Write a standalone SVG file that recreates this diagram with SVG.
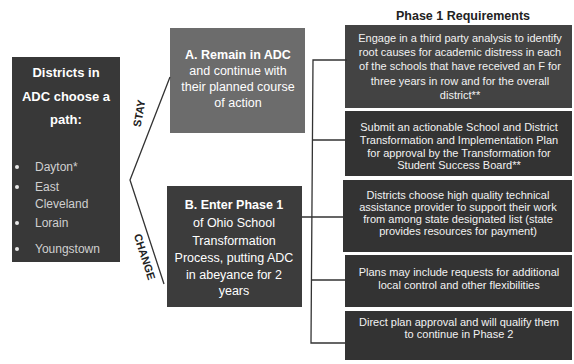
<svg xmlns="http://www.w3.org/2000/svg" width="574" height="364" viewBox="0 0 574 364">
<style>
text{font-family:"Liberation Sans",Arial,sans-serif;}
.wt{fill:#ffffff;text-anchor:middle;}
.big{font-size:12.5px;}
.hdr{font-size:13px;font-weight:bold;fill:#ffffff;text-anchor:middle;}
.req{font-size:11px;fill:#f2f2f2;text-anchor:middle;}
.li{font-size:12px;fill:#d0d0d0;}
.conn{stroke:#333;stroke-width:1.3;fill:none;}
.lbl{font-size:11px;font-weight:bold;fill:#222;text-anchor:middle;}
</style>
<rect width="574" height="364" fill="#ffffff"/>
<g id="districts">
<rect x="12" y="57" width="108" height="205" fill="#383838"/>
<text class="hdr" x="66" y="77">Districts in</text>
<text class="hdr" x="66" y="101">ADC choose a</text>
<text class="hdr" x="66" y="124">path:</text>
<g fill="#e8e8e8"><circle cx="17" cy="167" r="2"/><circle cx="17" cy="187" r="2"/><circle cx="17" cy="223" r="2"/><circle cx="17" cy="249" r="2"/></g>
<text class="li" x="35" y="171">Dayton*</text>
<text class="li" x="35" y="191">East</text>
<text class="li" x="35" y="208">Cleveland</text>
<text class="li" x="35" y="227">Lorain</text>
<text class="li" x="35" y="253">Youngstown</text>
</g>
<g id="optionA">
<rect x="170" y="28" width="135" height="105" fill="#6c6c6c"/>
<text class="wt big" x="238" y="59" font-weight="bold">A. Remain in ADC</text>
<text class="wt big" x="238" y="75">and continue with</text>
<text class="wt big" x="238" y="91">their planned course</text>
<text class="wt big" x="238" y="107">of action</text>
</g>
<g id="optionB">
<rect x="167" y="186" width="135" height="121" fill="#3c3c3c"/>
<text class="wt big" x="234" y="209" font-weight="bold">B. Enter Phase 1</text>
<text class="wt big" x="234" y="227">of Ohio School</text>
<text class="wt big" x="234" y="245">Transformation</text>
<text class="wt big" x="234" y="262">Process, putting ADC</text>
<text class="wt big" x="234" y="279">in abeyance for 2</text>
<text class="wt big" x="234" y="295">years</text>
</g>
<g id="phase1-title">
<text x="463" y="20" font-size="12.5px" font-weight="bold" fill="#222" text-anchor="middle">Phase 1 Requirements</text>
</g>
<g id="req1">
<rect x="345" y="25" width="227" height="83" fill="#434343"/>
<text class="req" x="460" y="42">Engage in a third party analysis to identify</text>
<text class="req" x="460" y="56">root causes for academic distress in each</text>
<text class="req" x="460" y="70">of the schools that have received an F for</text>
<text class="req" x="460" y="85">three years in row and for the overall</text>
<text class="req" x="460" y="99">district**</text>
</g>
<g id="req2">
<rect x="345" y="111" width="227" height="65" fill="#333333"/>
<text class="req" x="459" y="131">Submit an actionable School and District</text>
<text class="req" x="459" y="144">Transformation and Implementation Plan</text>
<text class="req" x="459" y="157">for approval by the Transformation for</text>
<text class="req" x="459" y="169">Student Success Board**</text>
</g>
<g id="req3">
<rect x="343" y="180" width="229" height="72" fill="#333333"/>
<text class="req" x="458" y="199">Districts choose high quality technical</text>
<text class="req" x="458" y="211">assistance provider to support their work</text>
<text class="req" x="458" y="223">from among state designated list (state</text>
<text class="req" x="458" y="235">provides resources for payment)</text>
</g>
<g id="req4">
<rect x="345" y="255" width="227" height="52" fill="#333333"/>
<text class="req" x="459" y="276">Plans may include requests for additional</text>
<text class="req" x="459" y="289">local control and other flexibilities</text>
</g>
<g id="req5">
<rect x="345" y="311" width="227" height="49" fill="#333333"/>
<text class="req" x="459" y="326">Direct plan approval and will qualify them</text>
<text class="req" x="459" y="338">to continue in Phase 2</text>
</g>
<g id="connectors">
<polyline class="conn" points="170,77 130,180 164,284"/>
<text class="lbl" transform="translate(143,114) rotate(-80)">STAY</text>
<text class="lbl" transform="translate(141,258) rotate(72)">CHANGE</text>
<path class="conn" d="M347,60 H313 L311,343 H345 M313,140 H345 M302,217 H343 M312,280 H345"/>
</g>
</svg>
